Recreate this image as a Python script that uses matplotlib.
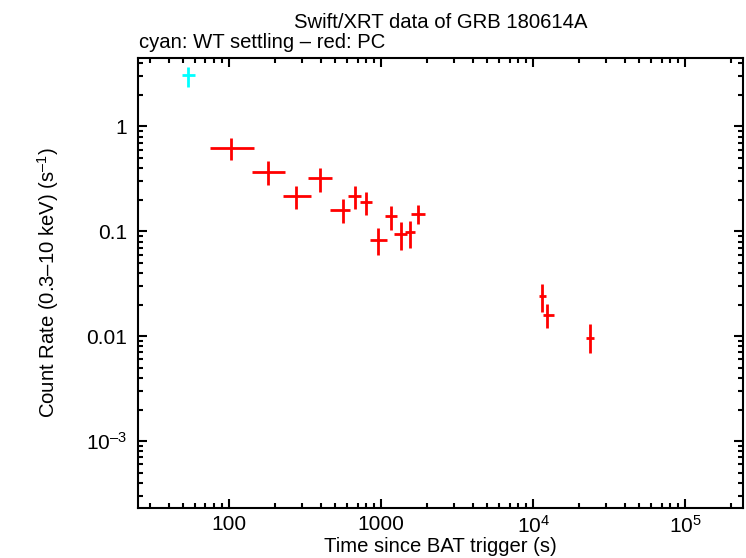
import numpy as np
import matplotlib
matplotlib.use('Agg')
import matplotlib.pyplot as plt
from matplotlib.ticker import LogLocator, FixedFormatter, FixedLocator, NullFormatter

plt.rcParams['font.family'] = ['Liberation Sans', 'DejaVu Sans']
plt.rcParams['mathtext.fontset'] = 'custom'
plt.rcParams['mathtext.rm'] = 'Liberation Sans'
plt.rcParams['mathtext.it'] = 'Liberation Sans:italic'
plt.rcParams['mathtext.bf'] = 'Liberation Sans:bold'

# WT settling (cyan)
wt_t = [54.0]
wt_tlo = [49.4]
wt_thi = [60.0]
wt_rate = [3.07]
wt_rlo = [2.39]
wt_rhi = [3.7]

# PC (red)
pc_t = [102.8, 180, 276, 395, 558, 673, 795, 953, 1159, 1349, 1549, 1746, 11430, 12330, 23660]
pc_tlo = [75.5, 142, 225, 333, 458, 603, 722, 841, 1054, 1224, 1429, 1585, 10870, 11590, 22290]
pc_thi = [146.6, 234, 347, 474, 627, 741, 875, 1097, 1270, 1479, 1661, 1932, 12080, 13650, 24980]
pc_rate = [0.63, 0.372, 0.216, 0.321, 0.161, 0.216, 0.192, 0.0833, 0.139, 0.095, 0.098, 0.1476, 0.0243, 0.016, 0.00966]
pc_rlo = [0.48, 0.277, 0.163, 0.237, 0.12, 0.163, 0.142, 0.06, 0.102, 0.067, 0.0688, 0.1167, 0.0172, 0.0119, 0.00688]
pc_rhi = [0.785, 0.466, 0.269, 0.4, 0.202, 0.269, 0.237, 0.1075, 0.173, 0.123, 0.1245, 0.177, 0.0312, 0.0204, 0.01294]

fig = plt.figure(figsize=(7.46, 5.58), dpi=100)
ax = fig.add_axes([138 / 746, 1 - 508 / 558, (743 - 138) / 746, (508 - 58) / 558])


def draw(t, tlo, thi, r, rlo, rhi, color):
    t = np.array(t); r = np.array(r)
    xerr = [t - np.array(tlo), np.array(thi) - t]
    yerr = [r - np.array(rlo), np.array(rhi) - r]
    ax.errorbar(t, r, xerr=xerr, yerr=yerr, fmt='none', ecolor=color,
                elinewidth=2, capsize=0)


draw(wt_t, wt_tlo, wt_thi, wt_rate, wt_rlo, wt_rhi, '#00ffff')
draw(pc_t, pc_tlo, pc_thi, pc_rate, pc_rlo, pc_rhi, '#ff0000')

ax.set_xscale('log')
ax.set_yscale('log')
ax.set_xlim(25.2, 2.4e5)
ax.set_ylim(2.3e-4, 4.5)

ax.xaxis.set_major_locator(FixedLocator([100, 1000, 1e4, 1e5]))
ax.xaxis.set_major_formatter(FixedFormatter(['100', '1000', '$10^4$', '$10^5$']))
ax.xaxis.set_minor_locator(LogLocator(base=10, subs=np.arange(2, 10), numticks=20))
ax.xaxis.set_minor_formatter(NullFormatter())
ax.yaxis.set_major_locator(FixedLocator([1e-3, 0.01, 0.1, 1]))
ax.yaxis.set_major_formatter(FixedFormatter(['$10^{\u20133}$', '0.01', '0.1', '1']))
ax.yaxis.set_minor_locator(LogLocator(base=10, subs=np.arange(2, 10), numticks=20))
ax.yaxis.set_minor_formatter(NullFormatter())

ax.tick_params(which='both', direction='in', top=True, right=True, width=1.5, labelsize=15)
ax.tick_params(which='major', length=6.5, pad=8)
ax.tick_params(which='minor', length=3.6)
ax.tick_params(axis='x', which='major', pad=5)
for s in ax.spines.values():
    s.set_linewidth(1.5)

ax.set_xlabel('Time since BAT trigger (s)', fontsize=14.6, labelpad=0)
ax.set_ylabel('Count Rate (0.3\u201310 keV) (s$^{\u20131}$)', fontsize=14.6, labelpad=18)
fig.text((138 + 743) / 2 / 746, 1 - 22 / 558, 'Swift/XRT data of GRB 180614A',
         ha='center', va='center', fontsize=14.6)
fig.text(139 / 746, 1 - 43 / 558, 'cyan: WT settling \u2013 red: PC',
         ha='left', va='center', fontsize=14.6)

fig.savefig('out.png', dpi=100)
